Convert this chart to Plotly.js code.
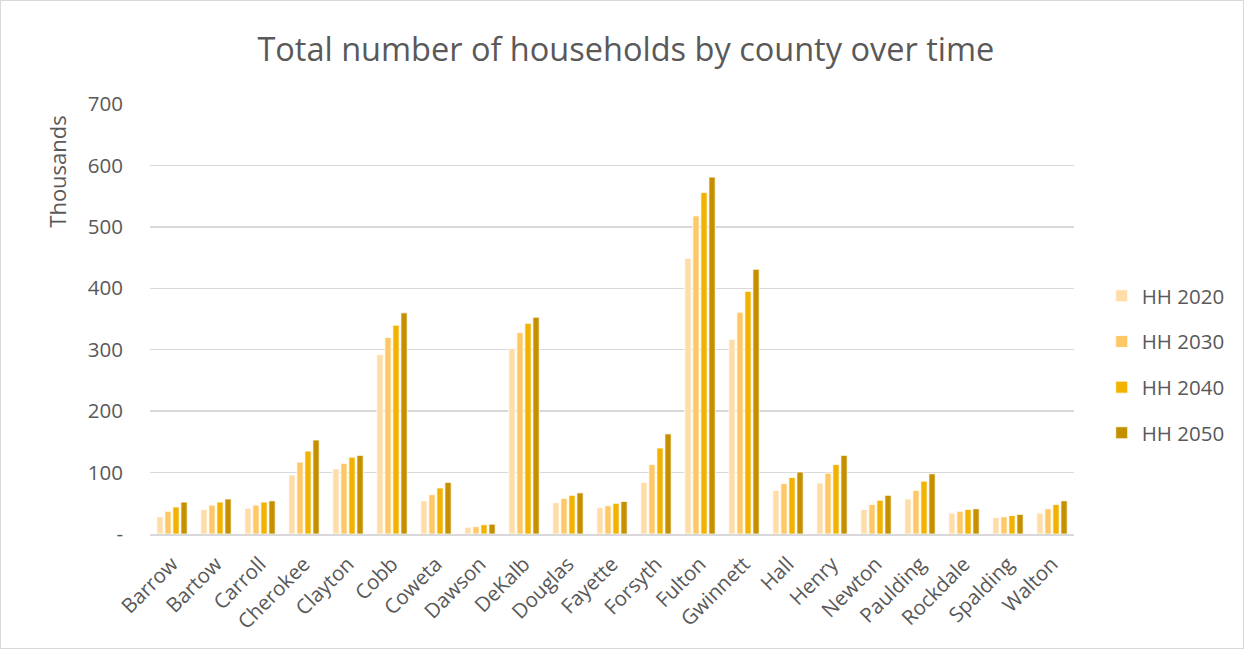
<!DOCTYPE html>
<html>
<head>
<meta charset="utf-8">
<script src="https://cdn.plot.ly/plotly-3.0.1.min.js"></script>
<style>
  html, body { margin: 0; padding: 0; background: #fff; }
  #chart { width: 1242px; height: 647px; border: 1px solid #d9d9d9; }
</style>
</head>
<body>
<div id="chart"></div>
<script>
const counties = ["Barrow","Bartow","Carroll","Cherokee","Clayton","Cobb","Coweta","Dawson","DeKalb","Douglas","Fayette","Forsyth","Fulton","Gwinnett","Hall","Henry","Newton","Paulding","Rockdale","Spalding","Walton"];
const hh2020 = [28, 40, 42, 96, 106, 292, 54, 11, 302, 51, 43, 84, 449, 317, 71, 83, 40, 57, 34, 27, 34];
const hh2030 = [37, 47, 47, 117, 115, 320, 64, 12, 328, 58, 46, 113, 518, 361, 82, 99, 48, 71, 37, 28, 41];
const hh2040 = [44, 52, 52, 135, 125, 340, 75, 15, 343, 63, 50, 140, 556, 395, 92, 113, 55, 86, 40, 30, 48];
const hh2050 = [52, 57, 54, 153, 128, 360, 84, 16, 353, 67, 53, 163, 581, 431, 101, 128, 63, 98, 41, 32, 54];
const seriesNames = ["HH 2020","HH 2030","HH 2040","HH 2050"];
const seriesColors = ["#FFDDA9","#FFC866","#F2B200","#C49000"];
const yTickVals = [0,100,200,300,400,500,600,700];
const yTickText = ["-","100","200","300","400","500","600","700"];

const allSeries = [hh2020, hh2030, hh2040, hh2050];
const traces = allSeries.map((vals, i) => ({
  type: "bar",
  name: seriesNames[i],
  x: counties,
  y: vals,
  legendgroup: "g" + i,
  marker: { color: seriesColors[i], line: { color: "#ffffff", width: 0.8 } },
  hoverinfo: "x+y+name"
}));

const font = "Open Sans, Liberation Sans, sans-serif";
const layout = {
  width: 1242, height: 647,
  paper_bgcolor: "#ffffff", plot_bgcolor: "#ffffff",
  margin: { l: 149, r: 169, t: 103, b: 114 },
  barmode: "group",
  bargap: 0.27,
  bargroupgap: 0.22,
  title: {
    text: "Total number of households by county over time",
    font: { family: font, size: 32.5, color: "#595959" },
    x: 0.515, xref: "paper", xanchor: "center",
    y: 0.925, yref: "container", yanchor: "middle"
  },
  font: { family: font, color: "#595959" },
  xaxis: {
    tickangle: -45,
    tickfont: { family: font, size: 20.5, color: "#595959" },
    showgrid: false,
    showline: true, linecolor: "#d9d9d9", linewidth: 2,
    ticks: "", ticklen: 0, ticklabelstandoff: 8
  },
  yaxis: {
    range: [0, 700],
    tickvals: yTickVals,
    ticktext: yTickText,
    tickfont: { family: font, size: 20.5, color: "#595959" },
    showgrid: true, gridcolor: "#d9d9d9", gridwidth: 1.5,
    zeroline: false, showline: false,
    ticks: "", ticklabelstandoff: 26
  },
  legend: {
    x: 1.03, xanchor: "left",
    y: 0.6, yanchor: "top",
    font: { family: font, size: 20.5, color: "#595959" },
    tracegroupgap: 16,
    itemwidth: 30
  },
  annotations: [{
    text: "Thousands",
    xref: "paper", yref: "paper",
    x: -0.1015, y: 0.843,
    xanchor: "center", yanchor: "middle",
    textangle: -90, showarrow: false,
    font: { family: font, size: 22, color: "#595959" }
  }]
};

Plotly.newPlot("chart", traces, layout, { displayModeBar: false, staticPlot: true });
</script>
</body>
</html>
